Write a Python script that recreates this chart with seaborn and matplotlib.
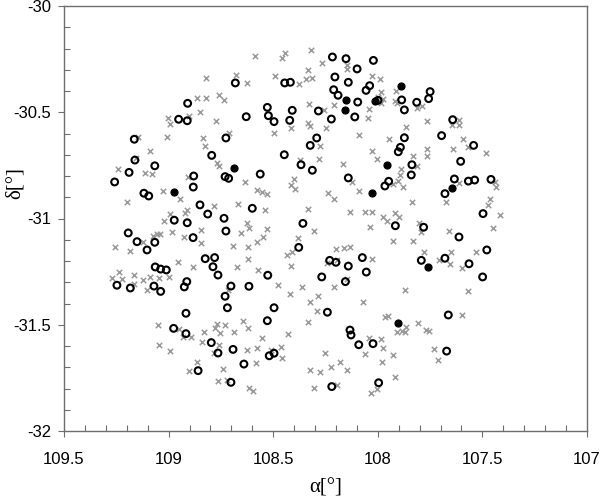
import matplotlib
matplotlib.use("Agg")
import matplotlib.pyplot as plt
import seaborn as sns
from matplotlib.ticker import MultipleLocator, FormatStrFormatter

# ---- data (RA [deg], Dec [deg]) ----
cross_ra = [
    108.587,108.823,108.679,108.627,108.866,108.823,108.759,108.734,108.848,109.001,108.993,108.902,108.773,
    109.006,109.145,108.834,108.827,108.710,108.496,109.089,109.157,109.240,109.113,109.078,108.770,108.761,
    108.459,108.442,108.318,108.268,108.491,108.332,108.343,108.316,108.375,108.149,
    108.146,108.026,107.991,107.985,107.998,107.974,107.985,107.912,107.918,107.907,
    108.327,108.208,108.256,108.042,108.047,107.814,107.790,107.765,108.332,108.324,
    108.415,108.248,107.864,108.090,107.948,108.275,108.029,108.281,108.372,108.004,
    107.766,107.763,107.830,108.165,107.813,107.889,107.894,
    107.610,107.647,107.610,107.594,107.639,107.567,107.484,
    108.906,108.635,109.028,108.946,109.200,108.579,108.784,108.667,108.913,108.920,
    108.993,109.021,108.627,108.616,108.845,108.984,108.654,109.054,109.041,109.073,
    108.928,108.576,109.121,108.845,108.691,108.619,109.256,109.184,108.619,108.954,
    108.882,108.672,108.571,109.236,109.272,109.221,109.165,109.121,109.089,109.046,
    108.997,109.164,109.105,108.715,
    108.399,108.415,108.396,108.555,108.528,108.122,108.237,108.209,108.091,107.905,
    107.926,107.881,107.838,108.538,108.335,108.134,108.061,108.026,107.974,107.957,
    107.918,107.897,108.528,108.305,108.039,107.802,107.795,108.547,108.380,107.926,
    107.832,108.433,108.409,108.198,108.160,108.134,107.778,108.416,108.244,108.194,
    108.026,107.707,108.146,108.476,108.364,108.208,108.420,108.284,108.324,107.870,
    108.069,
    107.610,107.440,107.436,107.674,107.462,107.475,107.416,107.448,107.661,107.650,
    107.531,107.655,107.599,107.567,
    109.049,109.046,108.993,108.950,108.930,108.894,108.829,108.778,108.769,108.754,
    108.729,108.689,108.643,108.622,108.839,108.758,108.782,108.624,108.577,108.866,
    108.901,108.740,108.582,108.762,108.722,108.614,108.595,
    108.291,108.335,108.555,108.429,108.461,108.509,108.456,107.966,107.950,107.806,
    107.771,107.754,107.907,107.883,107.867,107.869,108.042,107.986,107.974,108.061,
    107.929,107.731,107.714,108.252,108.182,108.225,108.147,108.323,108.278,107.981,
    107.918,108.306,108.194,108.002,108.034,
    107.599,
]
cross_dec = [
    -30.234,-30.337,-30.323,-30.361,-30.434,-30.434,-30.419,-30.444,-30.500,-30.528,-30.557,-30.519,-30.541,
    -30.618,-30.618,-30.623,-30.660,-30.596,-30.599,-30.681,-30.717,-30.768,-30.784,-30.792,-30.740,-30.753,
    -30.246,-30.223,-30.207,-30.270,-30.329,-30.301,-30.344,-30.340,-30.368,-30.278,
    -30.298,-30.331,-30.345,-30.403,-30.427,-30.439,-30.455,-30.399,-30.446,-30.458,
    -30.463,-30.464,-30.488,-30.486,-30.527,-30.481,-30.471,-30.541,-30.552,-30.565,
    -30.576,-30.574,-30.569,-30.608,-30.627,-30.660,-30.681,-30.720,-30.725,-30.721,
    -30.673,-30.704,-30.706,-30.745,-30.753,-30.768,-30.795,
    -30.538,-30.560,-30.560,-30.627,-30.672,-30.662,-30.693,
    -30.806,-30.830,-30.869,-30.908,-30.924,-30.866,-30.941,-30.932,-30.960,-30.976,
    -30.980,-31.012,-31.023,-31.046,-31.054,-31.062,-31.070,-31.074,-31.073,-31.081,
    -31.086,-31.112,-31.112,-31.117,-31.128,-31.133,-31.134,-31.153,-31.192,-31.205,
    -31.230,-31.228,-31.241,-31.250,-31.281,-31.286,-31.266,-31.289,-31.274,-31.279,
    -31.274,-31.308,-31.337,-31.337,
    -30.816,-30.842,-30.860,-30.874,-30.886,-30.830,-30.881,-30.910,-30.869,-30.824,
    -30.838,-30.850,-30.924,-30.961,-30.957,-30.968,-30.968,-30.971,-30.992,-31.012,
    -30.973,-30.994,-31.049,-31.057,-31.041,-31.020,-31.062,-31.088,-31.093,-31.107,
    -31.107,-31.173,-31.158,-31.145,-31.140,-31.133,-31.158,-31.225,-31.211,-31.195,
    -31.192,-31.195,-31.286,-31.314,-31.321,-31.324,-31.355,-31.365,-31.394,-31.337,
    -31.394,
    -30.834,-30.830,-30.852,-30.924,-30.910,-30.938,-30.985,-31.045,-31.060,-31.156,
    -31.156,-31.214,-31.234,-31.340,
    -31.501,-31.595,-31.624,-31.521,-31.556,-31.556,-31.533,-31.517,-31.498,-31.537,
    -31.500,-31.533,-31.481,-31.514,-31.581,-31.595,-31.632,-31.619,-31.608,-31.677,
    -31.718,-31.710,-31.681,-31.763,-31.760,-31.796,-31.812,
    -31.434,-31.488,-31.562,-31.544,-31.606,-31.619,-31.658,-31.465,-31.459,-31.493,
    -31.525,-31.528,-31.536,-31.528,-31.509,-31.536,-31.564,-31.569,-31.611,-31.638,
    -31.641,-31.614,-31.666,-31.632,-31.677,-31.697,-31.713,-31.714,-31.724,-31.674,
    -31.747,-31.796,-31.785,-31.804,-31.823,
    -31.454,
]

open_ra = [
    108.681,108.909,108.952,108.911,108.629,108.528,108.523,108.496,109.164,108.726,108.794,109.161,109.066,109.189,108.562,
    108.217,108.152,108.021,108.099,108.205,108.445,108.418,108.141,108.039,108.056,
    108.211,108.190,108.096,107.999,107.886,107.814,107.750,107.757,107.873,108.409,
    108.284,108.421,108.222,108.110,107.695,108.292,107.873,108.323,107.892,107.902,
    108.447,108.367,108.313,107.837,
    107.642,107.542,107.604,
    109.258,108.880,108.882,108.730,108.713,109.118,109.095,108.850,108.813,108.600,
    108.735,108.973,108.911,108.726,109.193,108.883,109.151,109.066,109.103,108.825,
    108.780,108.788,108.764,109.064,109.038,109.011,108.913,108.925,109.247,109.183,
    109.070,109.038,108.702,108.616,108.730,
    108.141,107.948,107.966,107.840,108.358,107.916,107.781,108.378,108.230,108.200,
    108.074,108.141,107.792,108.526,108.268,108.055,108.155,
    107.634,107.567,107.537,107.459,107.679,107.497,107.612,107.479,107.679,107.564,107.499,
    108.917,108.719,108.976,108.917,108.796,108.764,108.692,108.640,108.859,108.702,
    108.496,108.241,108.528,108.133,108.128,108.091,108.023,108.519,108.496,107.996,108.220,
    107.663,107.671,
]
open_dec = [
    -30.362,-30.458,-30.533,-30.540,-30.521,-30.477,-30.516,-30.544,-30.627,-30.621,-30.703,-30.725,-30.752,-30.783,-30.791,
    -30.240,-30.248,-30.256,-30.296,-30.334,-30.362,-30.359,-30.359,-30.375,-30.397,
    -30.394,-30.420,-30.452,-30.444,-30.442,-30.453,-30.403,-30.436,-30.489,-30.491,
    -30.494,-30.538,-30.532,-30.522,-30.610,-30.621,-30.620,-30.656,-30.665,-30.686,
    -30.700,-30.747,-30.773,-30.747,
    -30.535,-30.656,-30.731,
    -30.828,-30.800,-30.852,-30.803,-30.811,-30.881,-30.894,-30.936,-30.979,-30.952,
    -30.999,-31.008,-31.020,-31.059,-31.068,-31.090,-31.109,-31.112,-31.148,-31.189,
    -31.184,-31.227,-31.266,-31.228,-31.238,-31.242,-31.297,-31.322,-31.314,-31.327,
    -31.318,-31.343,-31.318,-31.319,-31.366,
    -30.809,-30.825,-30.847,-30.795,-31.023,-31.034,-31.041,-31.136,-31.197,-31.206,
    -31.184,-31.224,-31.197,-31.267,-31.275,-31.252,-31.297,
    -30.814,-30.824,-30.819,-30.816,-30.883,-30.977,-31.087,-31.148,-31.187,-31.213,-31.275,
    -31.446,-31.420,-31.517,-31.542,-31.584,-31.633,-31.616,-31.685,-31.716,-31.771,
    -31.420,-31.441,-31.481,-31.525,-31.548,-31.594,-31.589,-31.646,-31.634,-31.773,-31.791,
    -31.454,-31.624,
]

filled_ra = [108.689,107.889,108.152,108.012,108.157,107.956,108.973,108.026,107.761,107.905,107.645]
filled_dec = [-30.761,-30.375,-30.442,-30.447,-30.491,-30.750,-30.877,-30.881,-31.227,-31.493,-30.858]

x_ticks = [109.5, 109, 108.5, 108, 107.5, 107]
y_ticks = [-32, -31.5, -31, -30.5, -30]

# ---- style ----
sns.set_theme(style="white")
plt.rcParams['font.family'] = ['Liberation Sans', 'DejaVu Sans']
plt.rcParams['axes.unicode_minus'] = False

fig = plt.figure(figsize=(6.02, 5.01), dpi=100)
W, H = 602, 501
ax = fig.add_axes([64 / W, 1 - 431 / H, (587 - 64) / W, (431 - 6) / H])

sns.scatterplot(x=cross_ra, y=cross_dec, marker='x', s=15, color='#9a9a9a',
                linewidth=1.1, ax=ax, legend=False, zorder=2)
sns.scatterplot(x=open_ra, y=open_dec, marker='o', s=24, facecolor='none',
                edgecolor='black', linewidth=1.5, ax=ax, legend=False, zorder=3)
sns.scatterplot(x=filled_ra, y=filled_dec, marker='o', s=26, color='black',
                edgecolor='black', linewidth=0.8, ax=ax, legend=False, zorder=4)

ax.set_xlim(109.5, 107)
ax.set_ylim(-32, -30)
ax.set_xticks(x_ticks)
ax.set_yticks(y_ticks)
ax.xaxis.set_major_formatter(FormatStrFormatter('%g'))
ax.yaxis.set_major_formatter(FormatStrFormatter('%g'))
ax.xaxis.set_minor_locator(MultipleLocator(0.1))
ax.yaxis.set_minor_locator(MultipleLocator(0.1))

spine_col = '#6e6e6e'
for sp in ax.spines.values():
    sp.set_color(spine_col)
    sp.set_linewidth(1.0)
    sp.set_visible(True)

ax.tick_params(which='major', direction='out', length=4, width=0.8, color=spine_col,
               labelsize=12, labelcolor='black', bottom=True, left=True, top=False, right=False)
ax.tick_params(axis='x', which='major', pad=11)
ax.tick_params(axis='y', which='major', pad=5)
ax.tick_params(which='minor', direction='in', length=4, width=0.8, color=spine_col,
               bottom=True, left=True, top=False, right=False)

ax.set_xlabel('α[°]', fontfamily=['Liberation Serif', 'DejaVu Serif'], fontsize=15, color='black')
ax.set_ylabel('δ[°]', fontfamily=['Liberation Serif', 'DejaVu Serif'], fontsize=15, color='black')
ax.xaxis.set_label_coords(0.5, -0.112)
ax.yaxis.set_label_coords(-0.076, 0.584)
ax.grid(False)

fig.savefig('out.png', dpi=100)
